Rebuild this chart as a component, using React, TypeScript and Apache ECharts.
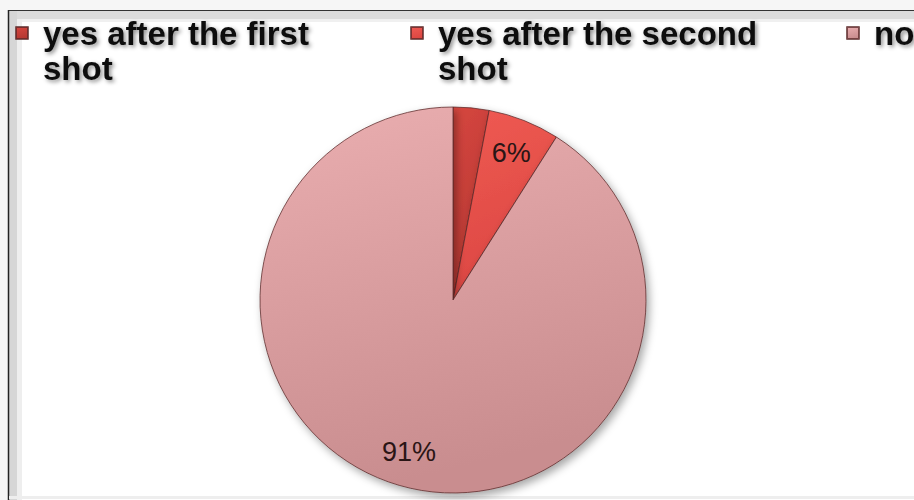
import React, { useEffect, useRef } from "react";
import * as echarts from "echarts";

const categories = ["yes after the first shot", "yes after the second shot", "no"];
const values = [3, 6, 91];
const legendText = ["yes after the first\nshot", "yes after the second\nshot", "no"];
const showValueLabel = [false, true, true];

const sliceColors = [
  ["#d6463f", "#b63832"],
  ["#ef5a53", "#dc4742"],
  ["#eaaeb0", "#c98d8f"],
];

export default function App() {
  const ref = useRef<HTMLDivElement>(null);
  useEffect(() => {
    if (!ref.current) return;
    const chart = echarts.init(ref.current, null, { renderer: "svg" });
    const grad = (c: string[]) =>
      new echarts.graphic.LinearGradient(0, 0, 0.25, 1, [
        { offset: 0, color: c[0] },
        { offset: 1, color: c[1] },
      ]);
    const font = "'Liberation Sans', Arial, sans-serif";
    const legendLefts = [15, 410, 846];
    const lh = 35;
    const iconCenter = 33;
    const legends = categories.map((name, i) => {
      const twoLines = legendText[i].includes("\n");
      const txt = twoLines ? "\n" + legendText[i] : legendText[i];
      const lines = twoLines ? 3 : 1;
      return {
        show: true,
        data: [name],
        left: legendLefts[i],
        top: iconCenter - (lines * lh) / 2,
        padding: 0,
        orient: "horizontal",
        icon: "rect",
        itemWidth: 12,
        itemHeight: 12,
        selectedMode: false,
        formatter: () => txt,
        textStyle: {
          fontFamily: font,
          fontWeight: "bold",
          fontSize: 33,
          lineHeight: lh,
          color: "#111",
          padding: [0, 0, 0, 10],
          textShadowColor: "rgba(0,0,0,0.45)",
          textShadowBlur: 4,
          textShadowOffsetX: 2,
          textShadowOffsetY: 2,
        },
      };
    });
    const option: any = {
      animation: false,
      backgroundColor: "#ffffff",
      legend: legends,
      graphic: [
        { type: "rect", shape: { x: 0, y: 0, width: 914, height: 10 }, style: { fill: "#f6f6f6" }, silent: true },
        { type: "rect", shape: { x: 0, y: 0, width: 8, height: 500 }, style: { fill: "#f6f6f6" }, silent: true },
        { type: "rect", shape: { x: 9, y: 11, width: 905, height: 8 }, style: { fill: "#dcdcdc" }, silent: true },
        { type: "rect", shape: { x: 9, y: 19, width: 905, height: 3 }, style: { fill: "#f0f0f0" }, silent: true },
        { type: "rect", shape: { x: 9, y: 11, width: 8, height: 489 }, style: { fill: "#d6d6d6" }, silent: true },
        { type: "rect", shape: { x: 17, y: 19, width: 5, height: 481 }, style: { fill: "#eeeeee" }, silent: true },
        { type: "line", shape: { x1: 8, y1: 10.5, x2: 914, y2: 10.5 }, style: { stroke: "#333", lineWidth: 1 }, silent: true },
        { type: "line", shape: { x1: 8.5, y1: 10, x2: 8.5, y2: 500 }, style: { stroke: "#222", lineWidth: 1.5 }, silent: true },
        { type: "line", shape: { x1: 9, y1: 497.5, x2: 914, y2: 497.5 }, style: { stroke: "#eeeeee", lineWidth: 3 }, silent: true },
      ],
      series: [
        {
          type: "pie",
          name: "main",
          center: [453, 300],
          radius: [0, 193],
          startAngle: 90,
          clockwise: true,
          label: { show: false },
          labelLine: { show: false },
          emphasis: { disabled: true },
          itemStyle: {
            borderColor: "rgba(90,40,40,0.75)",
            borderWidth: 1,
            shadowBlur: 8,
            shadowOffsetX: 3,
            shadowOffsetY: 4,
            shadowColor: "rgba(0,0,0,0.35)",
          },
          data: categories.map((name, i) => ({
            name,
            value: values[i],
            itemStyle: { color: grad(sliceColors[i]) },
          })),
        },
        {
          type: "pie",
          name: "labels",
          center: [453, 300],
          radius: [144, 166],
          startAngle: 90,
          clockwise: true,
          silent: true,
          labelLine: { show: false },
          itemStyle: { color: "rgba(0,0,0,0)", borderWidth: 0 },
          emphasis: { disabled: true },
          label: {
            show: true,
            position: "inside",
            formatter: "{c}%",
            fontFamily: font,
            fontSize: 27,
            color: "#2a1515",
          },
          data: categories.map((name, i) => ({
            name,
            value: values[i],
            label: { show: showValueLabel[i] },
          })),
        },
      ],
    };
    chart.setOption(option);
    return () => chart.dispose();
  }, []);
  return (
    <div
      ref={ref}
      style={{ position: "absolute", left: 0, top: 0, width: 914, height: 500 }}
    />
  );
}
